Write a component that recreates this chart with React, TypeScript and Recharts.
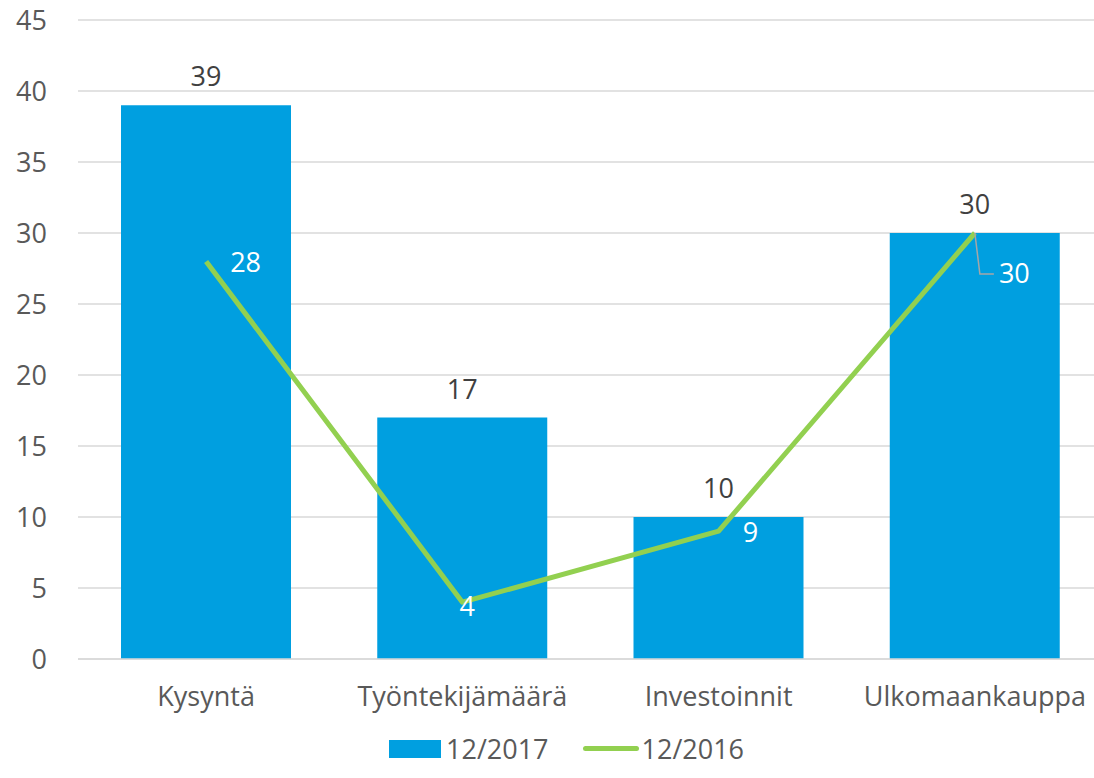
import { Bar, CartesianGrid, ComposedChart, LabelList, Legend, Line, XAxis, YAxis } from "recharts";

const categories = ["Kysyntä", "Työntekijämäärä", "Investoinnit", "Ulkomaankauppa"];
const values2017 = [39, 17, 10, 30];
const values2016 = [28, 4, 9, 30];
const yTicks = [0, 5, 10, 15, 20, 25, 30, 35, 40, 45];

const data = categories.map((c, i) => ({ c, y2017: values2017[i], y2016: values2016[i] }));

const font = "'Open Sans', sans-serif";
const fs = 27;
const blue = "#009FE0";
const green = "#92D050";

function LineLabel(props: any) {
  const { x, y, value, index } = props;
  if (index === 3) {
    // leader line for the overlapping label
    return (
      <g>
        <polyline points={`${x},${y} ${x + 5},${y + 41} ${x + 19},${y + 41}`} fill="none" stroke="#A6A6A6" strokeWidth={1.5} />
        <text x={x + 24} y={y + 41} dy="0.35em" fill="#fff" fontSize={fs} fontFamily={font}>
          {value}
        </text>
      </g>
    );
  }
  const off = [[24, 1], [-3, 4], [24, 1]][index];
  return (
    <text x={x + off[0]} y={y + off[1]} dy="0.35em" fill="#fff" fontSize={fs} fontFamily={font}>
      {value}
    </text>
  );
}

function LegendContent() {
  return (
    <div style={{ height: 59, display: "flex", alignItems: "center", paddingLeft: 389, fontFamily: font, fontSize: fs, color: "#595959" }}>
      <span style={{ display: "inline-block", width: 52, height: 18, background: blue, marginRight: 5 }} />
      <span style={{ marginRight: 34 }}>12/2017</span>
      <span style={{ display: "inline-block", width: 56, height: 5, borderRadius: 3, background: green, marginRight: 3 }} />
      <span>12/2016</span>
    </div>
  );
}

export default function App() {
  return (
    <div style={{ position: "absolute", left: 0, top: 0, width: 1094, height: 778, overflow: "hidden", background: "#fff" }}>
      <ComposedChart width={1110} height={778} data={data} margin={{ top: 20, right: 7, left: 0, bottom: 0 }} barCategoryGap={43}>
        <CartesianGrid vertical={false} stroke="#D9D9D9" strokeWidth={1.5} />
        <XAxis
          dataKey="c"
          tickLine={false}
          axisLine={{ stroke: "#D9D9D9", strokeWidth: 1.5 }}
          tickSize={0}
          tickMargin={28}
          height={60}
          tick={{ fill: "#595959", fontSize: fs, fontFamily: font }}
        />
        <YAxis
          domain={[0, 45]}
          ticks={yTicks}
          axisLine={false}
          tickLine={false}
          tickSize={0}
          tickMargin={31}
          width={78}
          tick={{ fill: "#595959", fontSize: fs, fontFamily: font }}
        />
        <Legend verticalAlign="bottom" content={<LegendContent />} />
        <Bar dataKey="y2017" name="12/2017" fill={blue} isAnimationActive={false}>
          <LabelList dataKey="y2017" position="top" offset={19} fill="#404040" fontSize={fs} fontFamily={font} />
        </Bar>
        <Line dataKey="y2016" name="12/2016" stroke={green} strokeWidth={5} dot={false} isAnimationActive={false} strokeLinejoin="round">
          <LabelList dataKey="y2016" content={<LineLabel />} />
        </Line>
      </ComposedChart>
    </div>
  );
}
